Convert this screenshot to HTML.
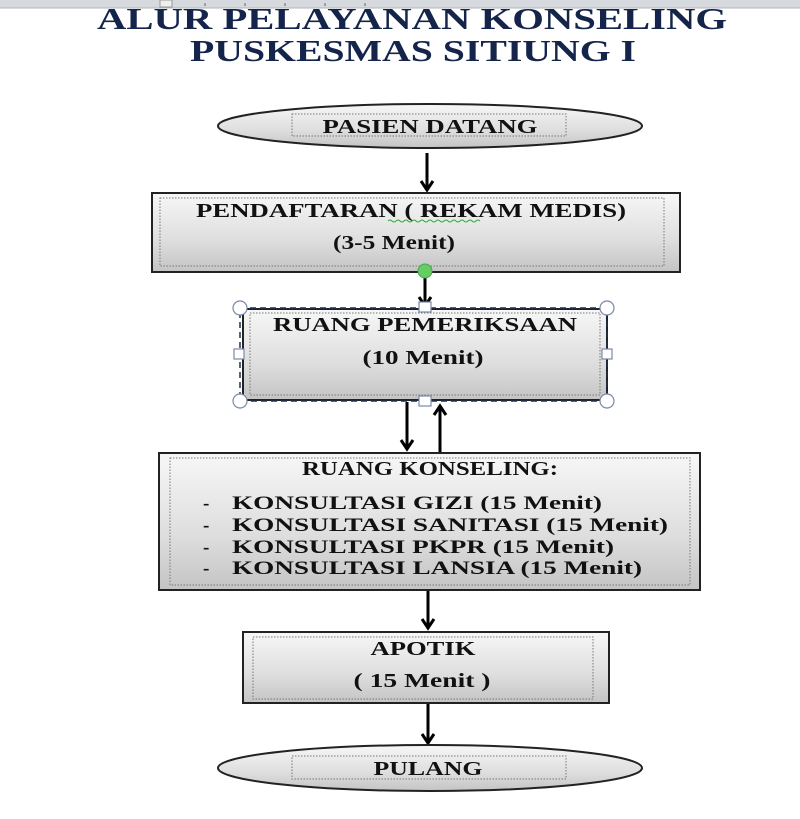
<!DOCTYPE html>
<html><head><meta charset="utf-8"><style>
html,body{margin:0;padding:0;background:#fff;width:800px;height:819px;overflow:hidden}
svg{display:block}
text{font-family:"Liberation Serif",serif;font-weight:bold;fill:#111}
</style></head><body>
<svg width="800" height="819" viewBox="0 0 800 819" xmlns="http://www.w3.org/2000/svg">
<defs>
<linearGradient id="g" x1="0" y1="0" x2="0" y2="1">
<stop offset="0" stop-color="#f7f7f7"/><stop offset="0.6" stop-color="#dedede"/><stop offset="1" stop-color="#c4c4c4"/>
</linearGradient>
</defs>
<rect x="0" y="0" width="800" height="8" fill="#d6d9de"/>
<line x1="0" y1="8" x2="800" y2="8" stroke="#b0b4ba"/>
<rect x="160" y="0" width="12" height="7" fill="#eee" stroke="#999"/>
<g stroke="#666"><line x1="205" y1="3" x2="205" y2="6"/><line x1="245" y1="3" x2="245" y2="6"/><line x1="285" y1="3" x2="285" y2="6"/><line x1="325" y1="3" x2="325" y2="6"/><line x1="365" y1="3" x2="365" y2="6"/></g>

<text x="412" y="29" font-size="31" text-anchor="middle" style="fill:#14244a" textLength="630" lengthAdjust="spacingAndGlyphs">ALUR PELAYANAN KONSELING</text>
<text x="413" y="61" font-size="31" text-anchor="middle" style="fill:#14244a" textLength="446" lengthAdjust="spacingAndGlyphs">PUSKESMAS SITIUNG I</text>

<ellipse cx="430" cy="126" rx="212" ry="22" fill="url(#g)" stroke="#222" stroke-width="2"/>
<rect x="292" y="114" width="274" height="22" fill="none" stroke="#777" stroke-dasharray="1.5 1.5"/>
<text x="430" y="133" font-size="20" text-anchor="middle" textLength="215" lengthAdjust="spacingAndGlyphs">PASIEN DATANG</text>

<g fill="none" stroke="#000" stroke-width="3">
<line x1="427" y1="153" x2="427" y2="190"/><path d="M421,181 L427,190 L433,181"/>
<line x1="425" y1="278" x2="425" y2="306"/><path d="M419,297 L425,306 L431,297"/>
<line x1="407" y1="402" x2="407" y2="449"/><path d="M401,440 L407,449 L413,440"/>
<line x1="440" y1="452" x2="440" y2="406"/><path d="M434,415 L440,406 L446,415"/>
<line x1="428" y1="590" x2="428" y2="628"/><path d="M422,619 L428,628 L434,619"/>
<line x1="428" y1="703" x2="428" y2="743"/><path d="M422,734 L428,743 L434,734"/>
</g>

<rect x="152" y="193" width="528" height="79" fill="url(#g)" stroke="#222" stroke-width="2"/>
<rect x="160" y="198" width="504" height="68" fill="none" stroke="#777" stroke-dasharray="1.5 1.5"/>
<text x="411" y="217" font-size="20" text-anchor="middle" textLength="430" lengthAdjust="spacingAndGlyphs">PENDAFTARAN ( REKAM MEDIS)</text>
<path d="M388,221 q2,-2 4,0 t4,0 t4,0 t4,0 t4,0 t4,0 t4,0 t4,0 t4,0 t4,0 t4,0 t4,0 t4,0 t4,0 t4,0 t4,0 t4,0 t4,0 t4,0 t4,0 t4,0 t4,0 t4,0" fill="none" stroke="#3a3" stroke-width="1"/>
<text x="394" y="249" font-size="20" text-anchor="middle" textLength="122" lengthAdjust="spacingAndGlyphs">(3-5 Menit)</text>
<circle cx="425" cy="271" r="7" fill="#6c6" stroke="#4a4"/>

<rect x="243" y="309" width="364" height="91" fill="url(#g)" stroke="#222" stroke-width="2"/>
<rect x="250" y="313" width="350" height="82" fill="none" stroke="#777" stroke-dasharray="1.5 1.5"/>
<rect x="240" y="308" width="367" height="93" fill="none" stroke="#1e2f50" stroke-width="1.5" stroke-dasharray="6 4"/>
<text x="425" y="331" font-size="20" text-anchor="middle" textLength="304" lengthAdjust="spacingAndGlyphs">RUANG PEMERIKSAAN</text>
<text x="423" y="364" font-size="20" text-anchor="middle" textLength="121" lengthAdjust="spacingAndGlyphs">(10 Menit)</text>
<g fill="#fff" stroke="#7a8aa8" stroke-width="1.2">
<circle cx="240" cy="308" r="7"/><circle cx="607" cy="308" r="7"/><circle cx="240" cy="401" r="7"/><circle cx="607" cy="401" r="7"/>
<rect x="419" y="302" width="12" height="10"/><rect x="419" y="396" width="12" height="10"/>
<rect x="234" y="349" width="10" height="10"/><rect x="602" y="349" width="10" height="10"/>
</g>

<rect x="159" y="453" width="541" height="137" fill="url(#g)" stroke="#222" stroke-width="2"/>
<rect x="170" y="458" width="520" height="127" fill="none" stroke="#777" stroke-dasharray="1.5 1.5"/>
<text x="430" y="475" font-size="20" text-anchor="middle" textLength="256" lengthAdjust="spacingAndGlyphs">RUANG KONSELING:</text>
<g font-size="19">
<text x="203" y="509">-</text><text x="232" y="509" textLength="370" lengthAdjust="spacingAndGlyphs">KONSULTASI GIZI (15 Menit)</text>
<text x="203" y="531">-</text><text x="232" y="531" textLength="436" lengthAdjust="spacingAndGlyphs">KONSULTASI SANITASI (15 Menit)</text>
<text x="203" y="553">-</text><text x="232" y="553" textLength="382" lengthAdjust="spacingAndGlyphs">KONSULTASI PKPR (15 Menit)</text>
<text x="203" y="574">-</text><text x="232" y="574" textLength="410" lengthAdjust="spacingAndGlyphs">KONSULTASI LANSIA (15 Menit)</text>
</g>

<rect x="243" y="632" width="366" height="71" fill="url(#g)" stroke="#222" stroke-width="2"/>
<rect x="253" y="637" width="340" height="62" fill="none" stroke="#777" stroke-dasharray="1.5 1.5"/>
<text x="423" y="655" font-size="20" text-anchor="middle" textLength="105" lengthAdjust="spacingAndGlyphs">APOTIK</text>
<text x="422" y="687" font-size="20" text-anchor="middle" textLength="137" lengthAdjust="spacingAndGlyphs">( 15 Menit )</text>

<ellipse cx="430" cy="768" rx="212" ry="23" fill="url(#g)" stroke="#222" stroke-width="2"/>
<rect x="292" y="756" width="274" height="23" fill="none" stroke="#777" stroke-dasharray="1.5 1.5"/>
<text x="428" y="775" font-size="20" text-anchor="middle" textLength="109" lengthAdjust="spacingAndGlyphs">PULANG</text>
</svg>
</body></html>
